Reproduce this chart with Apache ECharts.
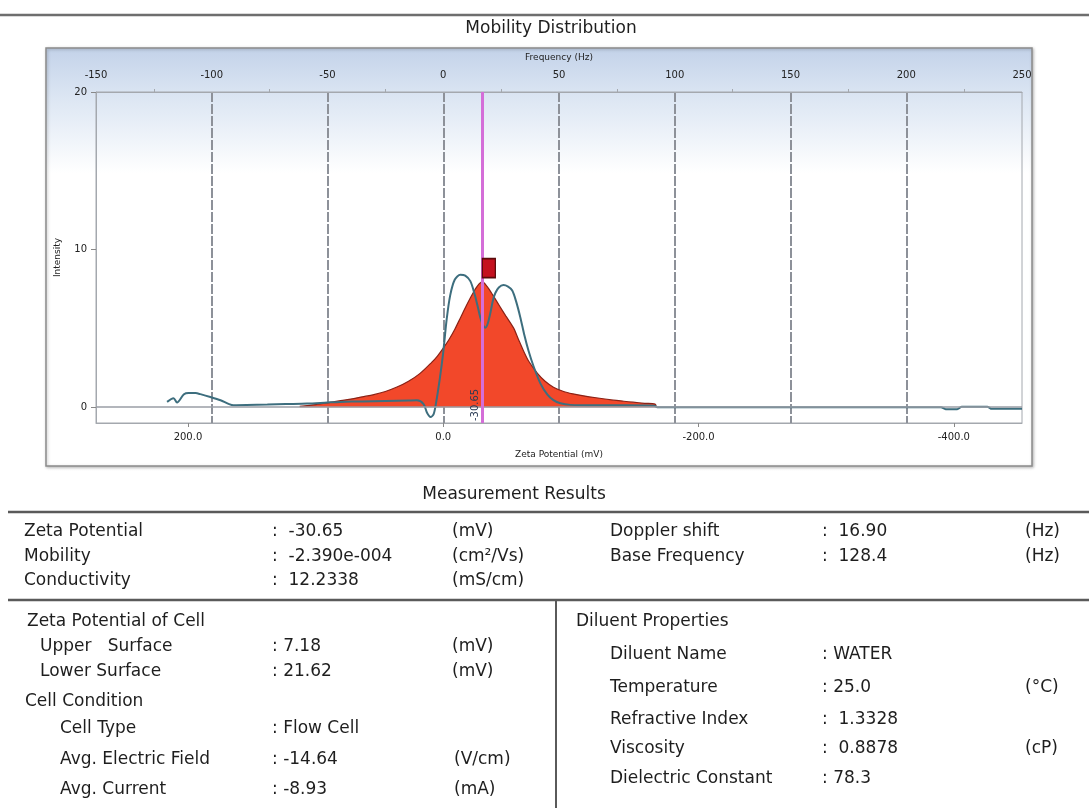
<!DOCTYPE html>
<html><head><meta charset="utf-8">
<script src="https://cdn.jsdelivr.net/npm/echarts@6/dist/echarts.min.js"></script>
<style>html,body{margin:0;padding:0;background:#fff}#c{width:1089px;height:808px}</style>
</head><body><div id="c"></div>
<script>
// ---------------- data ----------------
const chartTitle = 'Mobility Distribution';
const freqAxisName = 'Frequency (Hz)';
const zetaAxisName = 'Zeta Potential (mV)';
const intensityAxisName = 'Intensity';
const freqRange = [-150, 250];
const freqInterval = 50;
const intensityRange = [-1, 20];
const intensityTicks = [0, 10, 20];
const zetaTicks = [200, 0, -200, -400];
const zetaPotential = -30.65;   // mV
const dopplerShift = 16.90;     // Hz

// fitted distribution (red area): [frequency Hz, intensity]
const distribution = [
  [-62,0.05],[-55,0.17],[-50,0.28],[-45,0.4],[-40,0.52],[-35,0.66],[-30,0.8],[-25,1.0],
  [-20,1.28],[-15,1.65],[-10,2.15],[-5,2.85],[-2.5,3.25],[0,3.75],[2.5,4.3],[5,4.95],
  [7.5,5.7],[10,6.45],[12.5,7.15],[14.8,7.7],[16.9,7.95],[19,7.65],[21.5,7.1],[24,6.5],
  [27,5.8],[30.3,5.05],[32.5,4.3],[34.6,3.6],[37,2.9],[40.7,2.15],[44,1.65],[47.6,1.27],
  [52,1.0],[56,0.85],[60,0.74],[66,0.6],[73.5,0.45],[78,0.38],[82,0.32],[87,0.25],
  [91.5,0.2],[92,0.0]
];
// raw spectrum (teal line): [frequency Hz, intensity]
const rawSpectrum = [
  [-119.3,0.34],[-116.5,0.57],[-115,0.3],[-112,0.83],[-110,0.91],[-107,0.9],[-104.9,0.83],
  [-100.6,0.65],[-96.2,0.44],[-92.5,0.2],[-90.6,0.13],[-85,0.14],[-76,0.17],[-68,0.2],
  [-58.8,0.23],[-50,0.3],[-44.4,0.34],[-35,0.37],[-25,0.4],[-15,0.43],[-11.4,0.44],
  [-8.5,0.2],[-7,-0.35],[-5.5,-0.62],[-4.2,-0.45],[-3.2,0.2],[-1.5,1.8],[0,3.5],[1.5,5.6],
  [3,7.1],[5,8.1],[7.4,8.4],[9.5,8.35],[11.7,8.0],[13.5,7.2],[14.7,6.5],[16,5.7],[17.2,5.2],
  [18.2,5.05],[19.2,5.3],[20.3,5.95],[21.5,6.8],[22.5,7.25],[24,7.6],[26,7.75],[28,7.65],
  [29.8,7.4],[31.5,6.7],[33.3,5.7],[35,4.6],[36.8,3.6],[39,2.6],[42,1.5],[45,0.8],
  [47.6,0.45],[50.6,0.25],[55,0.15],[65,0.12],[80,0.12],[91,0.1],[92.5,0.0],[110,0.0],
  [150,0.0],[200,0.0],[215,0.0],[217,-0.12],[222,-0.12],[224,0.03],[235,0.03],[237,-0.1],[250,-0.1]
];
const peakMarker = [[19.7, 8.83]];

// ---------------- table text ----------------
const resultsTitle = 'Measurement Results';
const measLeftLabels = ['Zeta Potential', 'Mobility', 'Conductivity'];
const measLeftValues = [':  -30.65', ':  -2.390e-004', ':  12.2338'];
const measLeftUnits = ['(mV)', '(cm\u00B2/Vs)', '(mS/cm)'];
const measRightLabels = ['Doppler shift', 'Base Frequency'];
const measRightValues = [':  16.90', ':  128.4'];
const measRightUnits = ['(Hz)', '(Hz)'];
const cellHeading = 'Zeta Potential of Cell';
const cellLabels = ['Upper   Surface', 'Lower Surface'];
const cellValues = [': 7.18', ': 21.62'];
const cellUnits = ['(mV)', '(mV)'];
const condHeading = 'Cell Condition';
const condLabels = ['Cell Type', 'Avg. Electric Field', 'Avg. Current'];
const condValues = [': Flow Cell', ': -14.64', ': -8.93'];
const condUnits = ['', '(V/cm)', '(mA)'];
const diluentHeading = 'Diluent Properties';
const diluentLabels = ['Diluent Name', 'Temperature', 'Refractive Index', 'Viscosity', 'Dielectric Constant'];
const diluentValues = [': WATER', ': 25.0', ':  1.3328', ':  0.8878', ': 78.3'];
const diluentUnits = ['', '(\u00B0C)', '', '(cP)', ''];

// ---------------- layout ----------------
const FONT = 'DejaVu Sans';
const TFS = 17;
const TXT = '#1e1e1e';
const zetaPerHz = zetaPotential / dopplerShift;
const zetaMin = freqRange[1] * zetaPerHz;
const zetaMax = freqRange[0] * zetaPerHz;

const yTop = [532, 557, 581];
const yCell = [622, 647, 672, 702, 729, 760, 790];
const yDil = [622, 655, 688, 720, 749, 779];

function txt(x, y, s, align) {
  return {
    type: 'text', x: x, y: y, z: 100,
    style: { text: s, font: TFS + 'px "' + FONT + '"', fill: TXT, textVerticalAlign: 'middle', textAlign: align || 'left' }
  };
}
function hline(x1, x2, y, w, c) {
  return { type: 'line', z: 100, shape: { x1: x1, y1: y, x2: x2, y2: y }, style: { stroke: c || '#5a5a5a', lineWidth: w || 2 } };
}

const g = [];
g.push({
  type: 'rect', z: -10, shape: { x: 46, y: 48, width: 986, height: 418 },
  style: {
    fill: new echarts.graphic.LinearGradient(0, 0, 0, 1, [
      { offset: 0, color: '#c3d2e9' }, { offset: 0.12, color: '#dce6f3' }, { offset: 0.3, color: '#ffffff' }, { offset: 1, color: '#ffffff' }
    ]),
    stroke: '#8c8c8c', lineWidth: 1.5, shadowBlur: 3, shadowColor: 'rgba(0,0,0,0.25)', shadowOffsetX: 1, shadowOffsetY: 1
  }
});
g.push(hline(0, 1089, 15, 2.5, '#6e6e6e'));
g.push(txt(551, 29, chartTitle, 'center'));
g.push(txt(514, 495, resultsTitle, 'center'));
g.push(hline(8, 1089, 512, 2.5));
g.push(hline(8, 1089, 600, 2.5));
g.push({ type: 'line', z: 100, shape: { x1: 556, y1: 600, x2: 556, y2: 808 }, style: { stroke: '#5a5a5a', lineWidth: 2 } });

measLeftLabels.forEach((s, i) => {
  g.push(txt(24, yTop[i], s));
  g.push(txt(272, yTop[i], measLeftValues[i]));
  g.push(txt(452, yTop[i], measLeftUnits[i]));
});
measRightLabels.forEach((s, i) => {
  g.push(txt(610, yTop[i], s));
  g.push(txt(822, yTop[i], measRightValues[i]));
  g.push(txt(1025, yTop[i], measRightUnits[i]));
});
g.push(txt(27, yCell[0], cellHeading));
cellLabels.forEach((s, i) => {
  g.push(txt(40, yCell[1 + i], s));
  g.push(txt(272, yCell[1 + i], cellValues[i]));
  g.push(txt(452, yCell[1 + i], cellUnits[i]));
});
g.push(txt(25, yCell[3], condHeading));
condLabels.forEach((s, i) => {
  g.push(txt(60, yCell[4 + i], s));
  g.push(txt(272, yCell[4 + i], condValues[i]));
  if (condUnits[i]) g.push(txt(454, yCell[4 + i], condUnits[i]));
});
g.push(txt(576, yDil[0], diluentHeading));
diluentLabels.forEach((s, i) => {
  g.push(txt(610, yDil[1 + i], s));
  g.push(txt(822, yDil[1 + i], diluentValues[i]));
  if (diluentUnits[i]) g.push(txt(1025, yDil[1 + i], diluentUnits[i]));
});

const small = { fontFamily: FONT, fontSize: 10, color: '#222' };
const tiny = { fontFamily: FONT, fontSize: 9, color: '#222' };

const chart = echarts.init(document.getElementById('c'), null, { renderer: 'canvas' });
chart.setOption({
  backgroundColor: '#ffffff',
  animation: false,
  grid: { left: 96, right: 67, top: 92, bottom: 385, show: true, borderColor: '#a4a8ae', borderWidth: 1, backgroundColor: 'transparent' },
  graphic: g,
  xAxis: [
    {
      type: 'value', position: 'top', min: freqRange[0], max: freqRange[1], interval: freqInterval,
      name: freqAxisName, nameLocation: 'middle', nameGap: 30, nameTextStyle: tiny,
      axisLine: { show: true, onZero: false, lineStyle: { color: '#a4a8ae' } },
      axisTick: { show: false },
      minorTick: { show: true, splitNumber: 2, length: 3, lineStyle: { color: '#a4a8ae' } },
      axisLabel: Object.assign({ margin: 12 }, small),
      splitLine: { show: true, showMinLine: false, showMaxLine: false, lineStyle: { color: '#8d9199', width: 2, type: [10, 2] } }
    },
    {
      type: 'value', position: 'bottom', inverse: true, min: zetaMin, max: zetaMax,
      name: zetaAxisName, nameLocation: 'middle', nameGap: 27, nameTextStyle: tiny,
      axisLine: { show: true, onZero: false, lineStyle: { color: '#a4a8ae' } },
      axisTick: { show: true, length: 4, customValues: zetaTicks, lineStyle: { color: '#888' } },
      axisLabel: Object.assign({ margin: 9, customValues: zetaTicks, formatter: v => v.toFixed(1) }, small),
      splitLine: { show: false }
    }
  ],
  yAxis: {
    type: 'value', min: intensityRange[0], max: intensityRange[1],
    name: intensityAxisName, nameLocation: 'middle', nameGap: 34, nameRotate: 90, nameTextStyle: tiny,
    axisLine: { show: true, onZero: false, lineStyle: { color: '#a4a8ae' } },
    axisTick: { show: true, length: 5, customValues: intensityTicks, lineStyle: { color: '#888' } },
    axisLabel: Object.assign({ margin: 9, customValues: intensityTicks }, small),
    splitLine: { show: false }
  },
  series: [
    {
      type: 'line', name: 'distribution', xAxisIndex: 0, data: distribution, smooth: 0.3, symbol: 'none', z: 2,
      lineStyle: { color: '#8b2216', width: 1.2 },
      areaStyle: { color: '#f2482a', opacity: 1 },
      markLine: {
        silent: true, symbol: ['none', 'none'],
        lineStyle: { color: '#9a9ea6', width: 1.5, type: 'solid' },
        label: { show: false },
        data: [{ yAxis: 0 }]
      }
    },
    {
      type: 'line', name: 'raw', xAxisIndex: 0, data: rawSpectrum, smooth: 0.3, symbol: 'none', z: 3,
      lineStyle: { color: '#3d6e7e', width: 2 }
    },
    {
      type: 'scatter', name: 'peak', xAxisIndex: 0, data: peakMarker, symbol: 'rect', symbolSize: [13, 19], z: 5,
      itemStyle: { color: '#c4111f', borderColor: '#5a0a0a', borderWidth: 1.5, opacity: 1 },
      markLine: {
        silent: true, symbol: ['none', 'none'],
        lineStyle: { color: '#d46ed8', width: 3, type: 'solid' },
        label: { show: true, position: 'insideStartTop', formatter: zetaPotential.toFixed(2), fontFamily: FONT, fontSize: 10, color: '#2a3b55', distance: 2 },
        data: [{ xAxis: dopplerShift }]
      }
    }
  ]
});
</script>
</body></html>
